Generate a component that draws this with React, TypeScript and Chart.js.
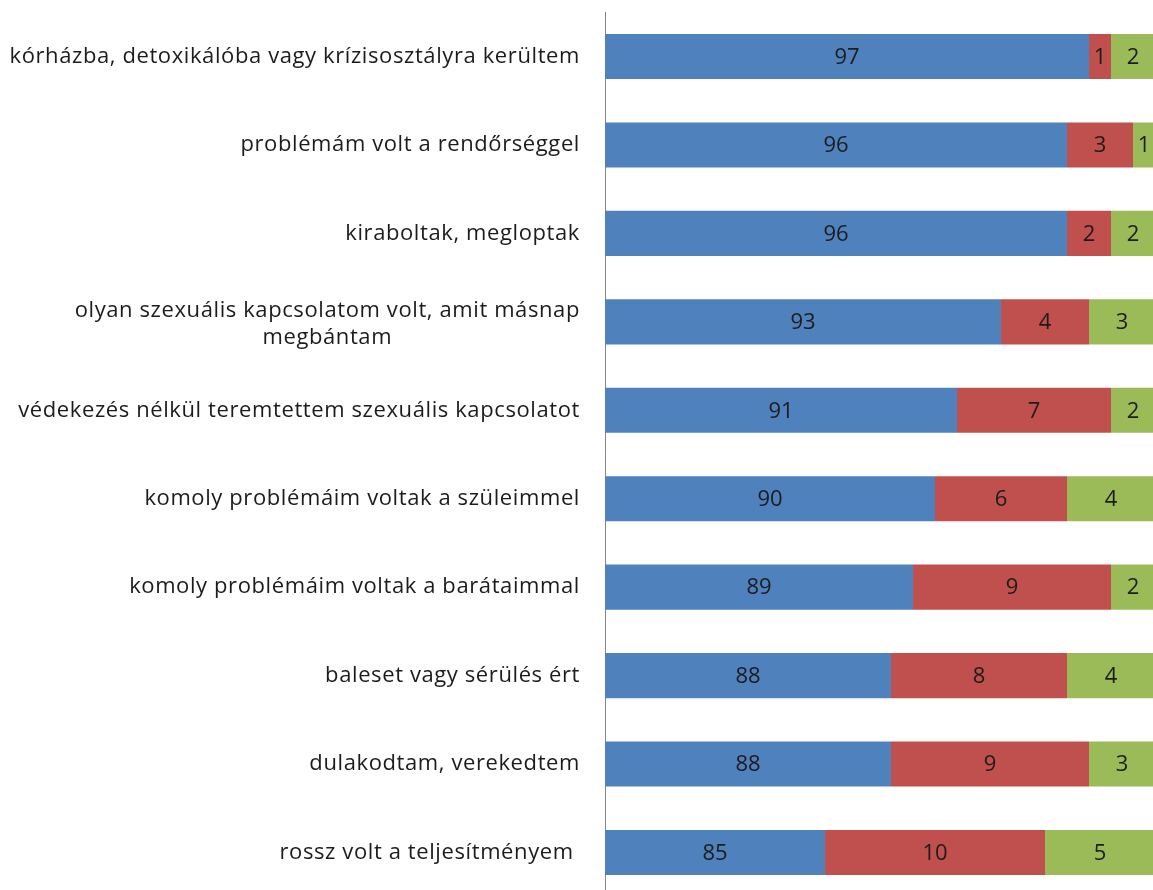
import React, { useEffect, useRef } from "react";
import { Chart, registerables } from "chart.js";

Chart.register(...registerables);

const categories: string[][] = [
  ["kórházba, detoxikálóba vagy krízisosztályra kerültem"],
  ["problémám volt a rendőrséggel"],
  ["kiraboltak, megloptak"],
  ["olyan szexuális kapcsolatom volt, amit másnap", "megbántam"],
  ["védekezés nélkül teremtettem szexuális kapcsolatot"],
  ["komoly problémáim voltak a szüleimmel"],
  ["komoly problémáim voltak a barátaimmal"],
  ["baleset vagy sérülés ért"],
  ["dulakodtam, verekedtem"],
  ["rossz volt a teljesítményem "],
];

const seriesNames = ["1. sorozat", "2. sorozat", "3. sorozat"];
const blueValues = [97, 96, 96, 93, 91, 90, 89, 88, 88, 85];
const redValues = [1, 3, 2, 4, 7, 6, 9, 8, 9, 10];
const greenValues = [2, 1, 2, 3, 2, 4, 2, 4, 3, 5];

const axisMin = 75;
const axisMax = 100;

const FONT = '"Open Sans", Lato, sans-serif';
const TEXT_COLOR = "#1c1c1c";

const segmentLabels = {
  id: "segmentLabels",
  afterDatasetsDraw(chart: any) {
    const ctx = chart.ctx;
    const area = chart.chartArea;
    ctx.save();
    ctx.font = `22px ${FONT}`;
    ctx.fillStyle = TEXT_COLOR;
    ctx.textAlign = "center";
    ctx.textBaseline = "middle";
    chart.data.datasets.forEach((ds: any, di: number) => {
      const meta = chart.getDatasetMeta(di);
      meta.data.forEach((el: any, i: number) => {
        const left = Math.max(Math.min(el.x, el.base), area.left);
        const right = Math.min(Math.max(el.x, el.base), area.right);
        if (right <= left) return;
        const cx = (left + right) / 2;
        ctx.fillText(String(ds.data[i]), cx, el.y + 1);
      });
    });
    ctx.restore();
  },
};

const categoryLabels = {
  id: "categoryLabels",
  afterDraw(chart: any) {
    const ctx = chart.ctx;
    const yScale = chart.scales.y;
    const rightEdge = chart.chartArea.left - 25;
    const lineH = 27;
    ctx.save();
    ctx.font = `22px ${FONT}`;
    (ctx as any).letterSpacing = "0.6px";
    ctx.fillStyle = TEXT_COLOR;
    ctx.textBaseline = "middle";
    ctx.textAlign = "left";
    (chart.data.labels as string[][]).forEach((lines, i) => {
      const y = yScale.getPixelForValue(i);
      const widths = lines.map((l) => ctx.measureText(l).width);
      const maxW = Math.max(...widths);
      const center = rightEdge - maxW / 2;
      const startY = y - ((lines.length - 1) * lineH) / 2 + (lines.length > 1 ? 2 : 0);
      lines.forEach((line, li) => {
        ctx.fillText(line, center - widths[li] / 2, startY + li * lineH);
      });
    });
    ctx.restore();
  },
};

export default function App() {
  const canvasRef = useRef<HTMLCanvasElement | null>(null);

  useEffect(() => {
    if (!canvasRef.current) return;
    const chart = new Chart(canvasRef.current, {
      type: "bar",
      data: {
        labels: categories as any,
        datasets: [
          { label: seriesNames[0], data: blueValues, backgroundColor: "#4F81BD" },
          { label: seriesNames[1], data: redValues, backgroundColor: "#C0504D" },
          { label: seriesNames[2], data: greenValues, backgroundColor: "#9BBB59" },
        ],
      },
      options: {
        indexAxis: "y",
        responsive: false,
        animation: false,
        devicePixelRatio: 1,
        datasets: {
          bar: { barPercentage: 0.51, categoryPercentage: 1, borderWidth: 0 },
        },
        layout: { padding: { left: 605, top: 12.3, right: 5, bottom: 3.3 } },
        plugins: {
          legend: { display: false },
          tooltip: { enabled: false },
          title: { display: false },
        },
        scales: {
          x: {
            type: "linear",
            display: false,
            stacked: true,
            min: axisMin,
            max: axisMax,
          },
          y: {
            type: "category",
            display: true,
            stacked: true,
            grid: { display: false, drawTicks: false },
            border: { display: true, color: "#868686", width: 1 },
            ticks: { display: false },
          },
        },
      },
      plugins: [segmentLabels, categoryLabels],
    } as any);
    return () => chart.destroy();
  }, []);

  return (
    <div
      style={{
        position: "fixed",
        left: 0,
        top: 0,
        width: 1153,
        height: 890,
        overflow: "hidden",
        background: "#fff",
      }}
    >
      <canvas ref={canvasRef} width={1160} height={900} style={{ display: "block" }} />
    </div>
  );
}
